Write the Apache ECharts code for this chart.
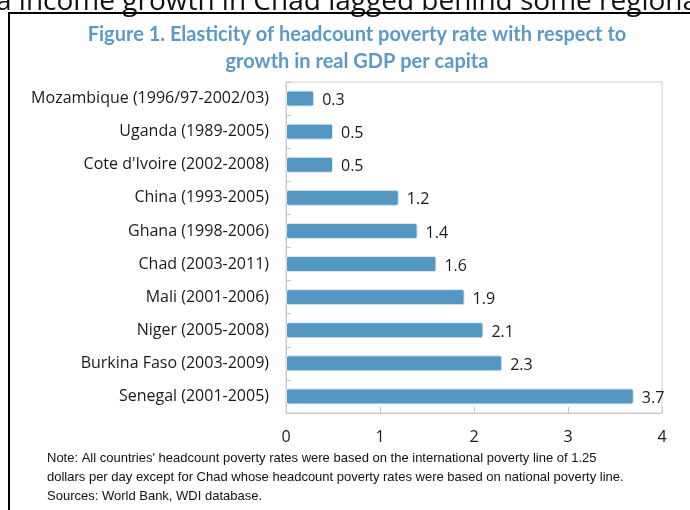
<!DOCTYPE html>
<html>
<head>
<meta charset="utf-8">
<script src="https://cdn.jsdelivr.net/npm/echarts@6/dist/echarts.min.js"></script>
<style>
  html, body { margin: 0; padding: 0; background: #fff; }
  #main { width: 690px; height: 510px; }
</style>
</head>
<body>
<div id="main"></div>
<script>
// 国家及时间段
var countries = ['Mozambique (1996/97-2002/03)', 'Uganda (1989-2005)', "Cote d'Ivoire (2002-2008)",
    'China (1993-2005)', 'Ghana (1998-2006)', 'Chad (2003-2011)', 'Mali (2001-2006)',
    'Niger (2005-2008)', 'Burkina Faso (2003-2009)', 'Senegal (2001-2005)'];
// 弹性值
var elasticity = [0.3, 0.5, 0.5, 1.2, 1.4, 1.6, 1.9, 2.1, 2.3, 3.7];
var xTicks = [0, 1, 2, 3, 4];
var titleLines = ['Figure 1. Elasticity of headcount poverty rate with respect to', 'growth in real GDP per capita'];
var noteLines = ["Note: All countries' headcount poverty rates were based on the international poverty line of 1.25",
    'dollars per day except for Chad whose headcount poverty rates were based on national poverty line.',
    'Sources: World Bank, WDI database.'];
var topText = 'a income growth in Chad lagged behind some regional';

var chart = echarts.init(document.getElementById('main'));

var graphics = [
    {type: 'text', left: -4, top: -12, style: {text: topText, font: '28px "Open Sans"', fill: '#111'}},
    {type: 'line', shape: {x1: 9, y1: 13, x2: 690, y2: 13}, style: {stroke: '#000', lineWidth: 2}},
    {type: 'line', shape: {x1: 9, y1: 12, x2: 9, y2: 510}, style: {stroke: '#000', lineWidth: 2}}
];
titleLines.forEach(function (t, i) {
    graphics.push({type: 'text', x: 357, y: 35 + i * 27,
        style: {text: t, font: 'bold 20px Lato', fill: '#5a9ac4', textAlign: 'center', textVerticalAlign: 'middle'}});
});
noteLines.forEach(function (t, i) {
    graphics.push({type: 'text', x: 47, y: 458 + i * 19,
        style: {text: t, font: '13px "Liberation Sans"', fill: '#111', textVerticalAlign: 'middle'}});
});

option = {
    animation: false,
    grid: {
        top: 82,
        left: 286,
        right: 28,
        bottom: 97,
        show: true,
        borderColor: '#d0d0d0',
        borderWidth: 1
    },
    xAxis: {
        type: 'value',
        min: xTicks[0],
        max: xTicks[xTicks.length - 1],
        interval: 1,
        axisLine: {show: true, lineStyle: {color: '#c8c8c8'}},
        axisTick: {show: true, inside: true, length: 6, lineStyle: {color: '#c8c8c8'}},
        splitLine: {show: false},
        axisLabel: {margin: 16, fontFamily: 'Open Sans', fontSize: 16, color: '#1a1a1a'}
    },
    yAxis: {
        type: 'category',
        inverse: true,
        data: countries,
        axisLine: {show: true, lineStyle: {color: '#c8c8c8'}},
        axisTick: {show: true, inside: true, length: 5, lineStyle: {color: '#c8c8c8'}},
        axisLabel: {margin: 17, fontFamily: 'Open Sans', fontSize: 16, color: '#1a1a1a'}
    },
    series: [{
        type: 'bar',
        data: elasticity,
        barWidth: 16,
        itemStyle: {color: '#5597c3', borderColor: '#dbe9f3', borderWidth: 1, borderRadius: 2},
        label: {show: true, position: 'right', distance: 8, fontFamily: 'Open Sans', fontSize: 16, color: '#1a1a1a', offset: [0, 2]}
    }],
    graphic: graphics
};
chart.setOption(option);
</script>
</body>
</html>
